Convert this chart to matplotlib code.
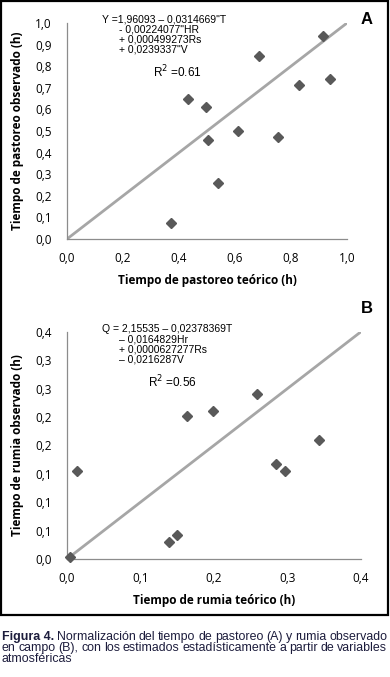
import matplotlib
matplotlib.use("Agg")
import matplotlib.pyplot as plt
from matplotlib import font_manager as fm

# ---------------- data ----------------
a_teorico = [0.915, 0.687, 0.941, 0.830, 0.432, 0.496, 0.609, 0.753, 0.504, 0.541, 0.372]
a_observado = [0.940, 0.847, 0.741, 0.713, 0.650, 0.613, 0.501, 0.472, 0.458, 0.261, 0.074]
a_ticks = [0.0, 0.1, 0.2, 0.3, 0.4, 0.5, 0.6, 0.7, 0.8, 0.9, 1.0]
a_xticks = [0.0, 0.2, 0.4, 0.6, 0.8, 1.0]

b_teorico = [0.258, 0.163, 0.199, 0.343, 0.014, 0.285, 0.296, 0.139, 0.149, 0.004]
b_observado = [0.290, 0.252, 0.261, 0.209, 0.154, 0.167, 0.155, 0.030, 0.043, 0.004]
b_yticks = [0.0, 0.05, 0.1, 0.15, 0.2, 0.25, 0.3, 0.35, 0.4]
b_xticks = [0.0, 0.1, 0.2, 0.3, 0.4]

eq_a = ['Y =1,96093 \u2013 0,0314669"T', '- 0,00224077"HR', '+ 0,000499273Rs', '+ 0,0239337"V']
eq_b = ['Q = 2,15535 \u2013 0,02378369T', '\u2013 0,0164829Hr', '+ 0,0000627277Rs', '\u2013 0,0216287V']
r2_a = "0.61"
r2_b = "0.56"

W, H = 390, 677
fig = plt.figure(figsize=(W / 100, H / 100), dpi=100)
fig.patch.set_facecolor("white")

avail = {f.name for f in fm.fontManager.ttflist}
tick_font = "Open Sans"
eq_font = "Liberation Sans"
cap_font = "Liberation Sans Narrow" if "Liberation Sans Narrow" in avail else "Liberation Sans"

def fx(px):
    return px / W

def fy(py):
    return 1 - py / H

# border box
fig.add_artist(plt.Rectangle((fx(1), fy(615)), fx(387), 614 / H, transform=fig.transFigure,
                             fill=False, edgecolor="black", linewidth=1.6))

def fmt1(v):
    return f"{v:.1f}".replace(".", ",")

def make_panel(left, top, right, bottom, xs, ys, xlim, ylim, xticks, yticks, xlabel, ylabel):
    ax = fig.add_axes([fx(left), fy(bottom), fx(right - left), (bottom - top) / H])
    ax.set_xlim(*xlim)
    ax.set_ylim(*ylim)
    ax.plot([0, xlim[1]], [0, ylim[1]], color="#a6a6a6", linewidth=2.0, zorder=2)
    ax.plot(xs, ys, linestyle="none", marker="D", markersize=5, color="#595959",
            markeredgecolor="#595959", zorder=3, clip_on=False)
    for s in ["top", "right"]:
        ax.spines[s].set_visible(False)
    for s in ["left", "bottom"]:
        ax.spines[s].set_color("#8c8c8c")
        ax.spines[s].set_linewidth(0.9)
    ax.set_xticks(xticks)
    ax.set_yticks(yticks)
    ax.set_xticklabels([fmt1(v) for v in xticks], fontfamily=tick_font, fontsize=8.5)
    ax.set_yticklabels([fmt1(v) for v in yticks], fontfamily=tick_font, fontsize=8.5)
    ax.tick_params(axis="both", length=0, colors="black")
    ax.tick_params(axis="y", pad=11)
    ax.tick_params(axis="x", pad=9)
    ax.set_xlabel(xlabel, fontfamily=tick_font, fontweight="bold", fontsize=8.5, labelpad=7)
    ax.set_ylabel(ylabel, fontfamily=tick_font, fontweight="bold", fontsize=8.5, labelpad=8)
    return ax

axA = make_panel(67, 23, 347, 239, a_teorico, a_observado, (0, 1.0), (0, 1.0), a_xticks, a_ticks,
                 "Tiempo de pastoreo teórico (h)", "Tiempo de pastoreo observado (h)")
axB = make_panel(67, 331.7, 361, 559, b_teorico, b_observado, (0, 0.4), (0, 0.4), b_xticks, b_yticks,
                 "Tiempo de rumia teórico (h)", "Tiempo de rumia observado (h)")

# equations
def eq_block(lines, x0, y0, indent_px, step):
    for i, ln in enumerate(lines):
        x = x0 if i == 0 else x0 + indent_px
        fig.text(fx(x), fy(y0 + i * step), ln, fontfamily=eq_font, fontsize=7.5,
                 ha="left", va="center", color="black")

eq_block(eq_a, 102, 19, 17, 10)
eq_block(eq_b, 102, 329.5, 17, 10)

fig.text(fx(153), fy(72), "R$^2$ =" + r2_a, fontfamily=eq_font, fontsize=8.5, ha="left", va="center")
fig.text(fx(148), fy(382), "R$^2$ =" + r2_b, fontfamily=eq_font, fontsize=8.5, ha="left", va="center")

fig.text(fx(367), fy(19), "A", fontfamily="Liberation Sans", fontweight="bold", fontsize=12,
         ha="center", va="center")
fig.text(fx(367), fy(308), "B", fontfamily="Liberation Sans", fontweight="bold", fontsize=12,
         ha="center", va="center")

# caption, justified
cap_color = "#1c1c3c"
cap_size = 8.9
lines = [
    [("Figura 4.", "bold")] + [(w, "normal") for w in "Normalización del tiempo de pastoreo (A) y rumia observado".split()],
    [(w, "normal") for w in "en campo (B), con los estimados estadísticamente a partir de variables".split()],
    [(w, "normal") for w in "atmosféricas".split()],
]
line_y = [637, 648, 659]
x_left, x_right = 2, 387
fig.canvas.draw()
renderer = fig.canvas.get_renderer()
for li, (words, yy) in enumerate(zip(lines, line_y)):
    texts = []
    widths = []
    for w, wt in words:
        t = fig.text(0, fy(yy), w, fontfamily=cap_font, fontweight=wt, fontsize=cap_size,
                     color=cap_color, ha="left", va="center")
        bb = t.get_window_extent(renderer=renderer)
        texts.append(t)
        widths.append(bb.width)
    if li < len(lines) - 1 and len(words) > 1:
        gap = (x_right - x_left - sum(widths)) / (len(words) - 1)
    else:
        gap = 3.0
    x = x_left
    for t, wdt in zip(texts, widths):
        t.set_x(fx(x))
        x += wdt + gap

fig.savefig("out.png", dpi=100, facecolor="white")
